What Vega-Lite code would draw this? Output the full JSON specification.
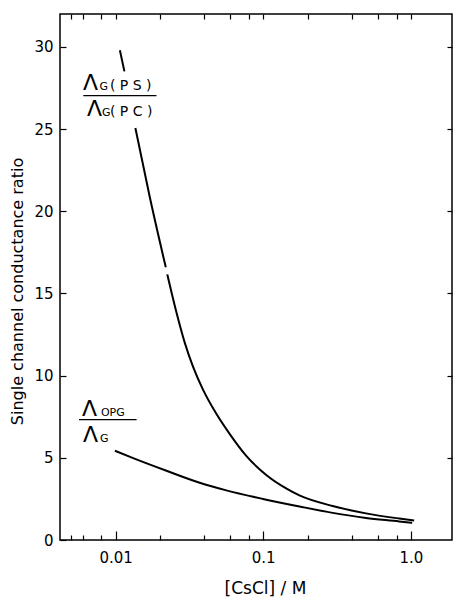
{
  "$schema": "https://vega.github.io/schema/vega-lite/v6.json",
  "width": 392,
  "height": 526,
  "autosize": {"type": "none"},
  "padding": {"left": 60, "top": 14, "right": 1, "bottom": 59},
  "config": {
    "font": "DejaVu Sans",
    "view": {"stroke": "black", "strokeWidth": 1.5},
    "axis": {"domain": false, "grid": false, "zindex": 1, "tickColor": "black", "tickWidth": 1.2, "labelColor": "black", "titleColor": "black", "labelFont": "DejaVu Sans", "titleFont": "DejaVu Sans", "titleFontWeight": "normal"}
  },
  "datasets": {
    "curves": [
      {"series": "PS/PC", "seg": "a", "x": 0.01069, "y": 29.79},
      {"series": "PS/PC", "seg": "a", "x": 0.01147, "y": 28.51},
      {"series": "PS/PC", "seg": "b", "x": 0.01361, "y": 25.06},
      {"series": "PS/PC", "seg": "b", "x": 0.01705, "y": 20.85},
      {"series": "PS/PC", "seg": "b", "x": 0.02187, "y": 16.59},
      {"series": "PS/PC", "seg": "c", "x": 0.02239, "y": 16.16},
      {"series": "PS/PC", "seg": "c", "x": 0.02584, "y": 13.84},
      {"series": "PS/PC", "seg": "c", "x": 0.02939, "y": 12.01},
      {"series": "PS/PC", "seg": "c", "x": 0.03344, "y": 10.55},
      {"series": "PS/PC", "seg": "c", "x": 0.03907, "y": 9.15},
      {"series": "PS/PC", "seg": "c", "x": 0.04814, "y": 7.68},
      {"series": "PS/PC", "seg": "c", "x": 0.0592, "y": 6.46},
      {"series": "PS/PC", "seg": "c", "x": 0.07675, "y": 5.12},
      {"series": "PS/PC", "seg": "c", "x": 0.1048, "y": 3.96},
      {"series": "PS/PC", "seg": "c", "x": 0.143, "y": 3.14},
      {"series": "PS/PC", "seg": "c", "x": 0.1759, "y": 2.71},
      {"series": "PS/PC", "seg": "c", "x": 0.2953, "y": 2.07},
      {"series": "PS/PC", "seg": "c", "x": 0.4966, "y": 1.62},
      {"series": "PS/PC", "seg": "c", "x": 0.8336, "y": 1.31},
      {"series": "PS/PC", "seg": "c", "x": 1.0527, "y": 1.19},
      {"series": "OPG/G", "seg": "d", "x": 0.00989, "y": 5.43},
      {"series": "OPG/G", "seg": "d", "x": 0.01315, "y": 4.98},
      {"series": "OPG/G", "seg": "d", "x": 0.02211, "y": 4.21},
      {"series": "OPG/G", "seg": "d", "x": 0.03713, "y": 3.48},
      {"series": "OPG/G", "seg": "d", "x": 0.05623, "y": 3.02},
      {"series": "OPG/G", "seg": "d", "x": 0.09938, "y": 2.5},
      {"series": "OPG/G", "seg": "d", "x": 0.1759, "y": 2.04},
      {"series": "OPG/G", "seg": "d", "x": 0.2953, "y": 1.65},
      {"series": "OPG/G", "seg": "d", "x": 0.4966, "y": 1.34},
      {"series": "OPG/G", "seg": "d", "x": 0.8336, "y": 1.13},
      {"series": "OPG/G", "seg": "d", "x": 1.0204, "y": 1.04}
    ],
    "bigText": [
      {"t": "Λ", "x": 0.006012, "y": 27.4},
      {"t": "Λ", "x": 0.006399, "y": 25.77},
      {"t": "Λ", "x": 0.00592, "y": 7.52},
      {"t": "Λ", "x": 0.006012, "y": 5.99}
    ],
    "smallText": [
      {"t": "G", "x": 0.007773, "y": 27.4},
      {"t": "G", "x": 0.00808, "y": 25.77},
      {"t": "OPG", "x": 0.007957, "y": 7.52},
      {"t": "G", "x": 0.007834, "y": 5.99}
    ],
    "midText": [
      {"t": "( P S )", "x": 0.00915, "y": 27.4},
      {"t": "( P C )", "x": 0.00915, "y": 25.77}
    ],
    "fracLines": [
      {"x": 0.00604, "x2": 0.01892, "y": 27.03},
      {"x": 0.005649, "x2": 0.01387, "y": 7.32}
    ]
  },
  "resolve": {"axis": {"x": "independent", "y": "independent"}},
  "layer": [
    {
      "data": {"name": "curves"},
      "mark": {"type": "line", "color": "black", "strokeWidth": 2, "interpolate": "monotone"},
      "encoding": {
        "x": {
          "field": "x", "type": "quantitative",
          "scale": {"type": "log", "domain": [0.0042, 1.9], "nice": false},
          "axis": {
            "orient": "bottom",
            "values": [0.005, 0.006, 0.008, 0.01, 0.02, 0.04, 0.06, 0.08, 0.1, 0.2, 0.4, 0.6, 0.8, 1.0],
            "labelExpr": "datum.value == 0.01 ? '0.01' : datum.value == 0.1 ? '0.1' : datum.value == 1 ? '1.0' : ''",
            "tickSize": {"condition": {"test": "datum.value == 0.01 || datum.value == 0.1 || datum.value == 1", "value": -9}, "value": -5},
            "labelPadding": 19,
            "labelFontSize": 15,
            "title": "[CsCl] / M",
            "titleFontSize": 17,
            "titlePadding": 15,
            "titleX": 205
          }
        },
        "y": {
          "field": "y", "type": "quantitative",
          "scale": {"domain": [0, 32], "nice": false},
          "axis": {
            "orient": "left",
            "values": [0, 5, 10, 15, 20, 25, 30],
            "tickSize": -6,
            "labelPadding": 13,
            "labelFontSize": 15,
            "title": "Single channel conductance ratio",
            "titleFontSize": 16,
            "titlePadding": 8,
            "titleY": 277
          }
        },
        "detail": {"field": "seg"}
      }
    },
    {
      "data": {"name": "fracLines"},
      "mark": {"type": "rule", "color": "black", "strokeWidth": 1.2},
      "encoding": {
        "x": {
          "field": "x", "type": "quantitative",
          "scale": {"type": "log", "domain": [0.0042, 1.9], "nice": false},
          "axis": {
            "orient": "top",
            "values": [0.005, 0.006, 0.008, 0.01, 0.02, 0.04, 0.06, 0.08, 0.1, 0.2, 0.4, 0.6, 0.8, 1.0],
            "labels": false,
            "tickSize": -5,
            "title": null
          }
        },
        "x2": {"field": "x2"},
        "y": {
          "field": "y", "type": "quantitative",
          "scale": {"domain": [0, 32], "nice": false},
          "axis": {
            "orient": "right",
            "values": [5, 10, 15, 20, 25, 30],
            "labels": false,
            "tickSize": -5,
            "title": null
          }
        }
      }
    },
    {
      "data": {"name": "bigText"},
      "mark": {"type": "text", "align": "left", "baseline": "alphabetic", "fontSize": 22, "color": "black"},
      "encoding": {
        "x": {"field": "x", "type": "quantitative", "axis": null},
        "y": {"field": "y", "type": "quantitative", "axis": null},
        "text": {"field": "t"}
      }
    },
    {
      "data": {"name": "smallText"},
      "mark": {"type": "text", "align": "left", "baseline": "alphabetic", "fontSize": 11, "color": "black"},
      "encoding": {
        "x": {"field": "x", "type": "quantitative", "axis": null},
        "y": {"field": "y", "type": "quantitative", "axis": null},
        "text": {"field": "t"}
      }
    },
    {
      "data": {"name": "midText"},
      "mark": {"type": "text", "align": "left", "baseline": "alphabetic", "fontSize": 14, "color": "black"},
      "encoding": {
        "x": {"field": "x", "type": "quantitative", "axis": null},
        "y": {"field": "y", "type": "quantitative", "axis": null},
        "text": {"field": "t"}
      }
    }
  ]
}
